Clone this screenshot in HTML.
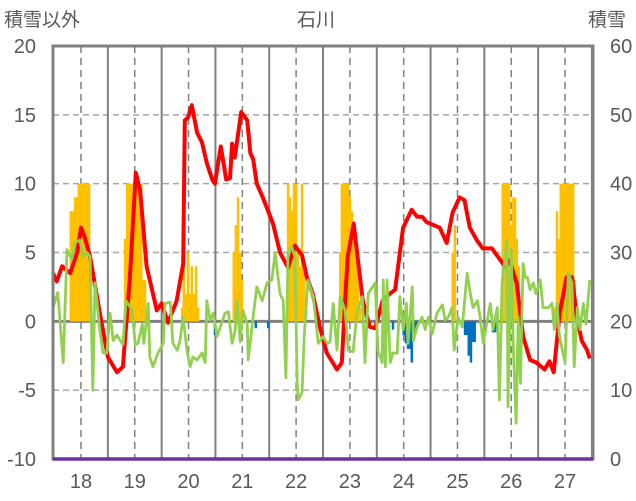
<!DOCTYPE html>
<html><head><meta charset="utf-8"><style>
body{margin:0;background:#fff;width:636px;height:501px;overflow:hidden}
svg{display:block;font-family:"Liberation Sans","Noto Sans CJK JP",sans-serif}
</style></head><body>
<svg id="chart" width="636" height="501" viewBox="0 0 636 501" xmlns="http://www.w3.org/2000/svg">
<text x="4" y="26" font-size="19" fill="#595959">積雪以外</text>
<text x="316" y="26" font-size="19" fill="#595959" text-anchor="middle">石川</text>
<text x="588" y="26" font-size="19" fill="#595959">積雪</text>
<g id="grid"></g><g id="bars"></g><g id="lines"></g><g id="frame"></g><g id="labels"></g>
</svg>
<script>
const yearTicks=[18,19,20,21,22,23,24,25,26,27];
const leftTicks=[20,15,10,5,0,-5,-10];
const rightTicks=[60,50,40,30,20,10,0];
const redT=[17.48,17.55,17.65,17.80,17.93,18.00,18.07,18.17,18.35,18.50,18.67,18.78,18.91,19.02,19.10,19.22,19.41,19.50,19.62,19.78,19.90,19.93,19.99,20.06,20.16,20.25,20.34,20.44,20.49,20.60,20.70,20.77,20.81,20.86,20.98,21.09,21.15,21.20,21.27,21.38,21.57,21.70,21.85,21.98,22.11,22.20,22.31,22.44,22.57,22.76,22.85,22.91,22.96,23.07,23.15,23.24,23.37,23.47,23.61,23.74,23.84,23.99,24.15,24.25,24.34,24.43,24.67,24.80,24.91,25.04,25.13,25.23,25.36,25.47,25.64,25.75,25.88,25.97,26.10,26.22,26.35,26.47,26.62,26.71,26.79,26.90,27.03,27.13,27.22,27.31,27.41,27.46];
const redV=[3.5,2.9,4.0,3.5,5.0,6.8,6.1,4.7,0.6,-2.6,-3.7,-3.3,3.2,10.8,9.5,4.0,0.8,1.3,-0.1,1.5,4.2,14.6,14.8,15.7,13.7,13.0,11.5,10.3,10.0,12.7,10.3,10.4,12.9,11.9,15.2,14.6,12.2,11.8,10.0,9.0,7.1,5.0,3.9,5.5,4.8,3.2,2.0,-0.4,-2.3,-3.5,-3.0,1.5,4.7,7.1,4.4,1.5,-0.4,-0.5,1.5,2.0,2.3,6.8,8.1,7.6,7.6,7.2,6.8,5.7,7.9,9.0,8.8,6.8,5.9,5.3,5.3,4.7,4.0,4.4,2.8,-1.1,-2.8,-3.0,-3.5,-2.9,-3.7,0.6,3.2,3.2,0.3,-1.4,-2.1,-2.7];
const greenT=[17.48,17.57,17.67,17.74,17.83,17.89,17.98,18.04,18.11,18.17,18.22,18.26,18.35,18.41,18.48,18.54,18.60,18.67,18.78,18.84,18.95,19.01,19.06,19.14,19.17,19.25,19.28,19.34,19.43,19.53,19.56,19.66,19.71,19.79,19.84,19.90,19.97,20.03,20.08,20.16,20.25,20.31,20.34,20.40,20.46,20.53,20.59,20.68,20.74,20.81,20.87,20.90,20.96,21.01,21.09,21.11,21.20,21.27,21.37,21.46,21.55,21.61,21.70,21.76,21.81,21.85,21.92,21.98,22.02,22.04,22.11,22.15,22.22,22.32,22.41,22.50,22.58,22.63,22.69,22.76,22.82,22.91,22.97,23.06,23.13,23.23,23.28,23.34,23.47,23.52,23.60,23.62,23.66,23.69,23.75,23.80,23.88,23.93,23.99,24.05,24.08,24.16,24.18,24.25,24.34,24.40,24.46,24.53,24.62,24.72,24.77,24.83,24.90,24.94,25.01,25.09,25.18,25.24,25.29,25.37,25.42,25.48,25.61,25.66,25.74,25.78,25.83,25.92,25.94,26.00,26.04,26.09,26.13,26.17,26.22,26.26,26.30,26.35,26.41,26.46,26.54,26.59,26.69,26.76,26.80,26.85,26.89,26.95,27.00,27.06,27.13,27.17,27.23,27.28,27.34,27.39,27.46];
const greenV=[1.0,2.1,-3.0,5.2,4.5,5.7,5.9,4.7,5.0,4.7,-5.0,2.8,-0.6,-2.3,-2.3,0.6,-1.4,-1.0,-1.7,1.5,0.8,-1.7,-1.6,-0.2,-1.6,1.3,-2.6,-3.3,-2.3,-1.6,1.3,1.4,-1.6,-2.1,-1.4,0.3,-2.1,-3.3,-2.6,-2.8,-2.3,-3.0,1.5,0.1,0.6,-1.1,-0.4,0.6,0.7,-1.6,-0.6,1.5,-1.5,0.8,-0.2,-2.8,0.3,2.5,1.5,2.8,3.0,5.0,2.0,1.5,-4.1,5.0,5.4,4.7,-4.5,-5.7,-5.2,-1.1,3.0,1.8,-1.6,-1.1,-1.6,-1.5,1.3,-2.1,1.8,0.8,-2.1,-2.2,0.6,1.8,-3.0,2.0,2.8,-2.1,-3.0,3.0,-3.3,3.0,-3.0,-2.3,-2.3,1.8,-0.6,1.3,-1.6,2.5,-1.4,-0.4,0.3,-0.6,0.3,-0.9,0.6,1.2,0.1,0.3,1.0,-2.1,0.3,-0.4,3.5,2.0,1.0,1.5,0.3,-1.6,1.3,-0.6,1.0,-5.7,2.8,5.9,-6.2,5.2,-2.1,-7.4,0.3,-4.5,4.2,3.2,3.2,2.3,2.8,2.0,3.0,1.0,1.0,1.3,-0.6,1.3,-0.9,-2.1,-3.0,3.5,2.8,-3.3,1.0,-0.6,1.3,-0.2,3.0];
const snowT=[17.81,17.85,17.89,17.93,17.96,18.00,18.04,18.07,18.11,18.15,18.82,18.86,18.89,18.93,18.97,19.00,19.04,19.08,19.12,19.15,19.19,19.88,19.91,19.95,19.99,20.03,20.06,20.10,20.14,20.18,20.84,20.88,20.92,20.96,20.99,21.85,21.89,21.92,21.96,22.00,22.03,22.07,22.11,22.15,22.82,22.85,22.89,22.93,22.96,23.00,23.04,23.07,23.11,23.15,23.19,24.91,24.95,25.84,25.88,25.92,25.96,25.99,26.03,26.07,26.10,26.14,26.81,26.85,26.89,26.92,26.96,27.00,27.03,27.07,27.11,27.15,27.18];
const snowV=[8,8,9,9,10,10,10,10,10,10,6,10,10,10,10,10,10,10,10,3,3,1,9,2,5,2,4,2,4,1,5,7,9,5,3,10,9,8,10,10,5,4,10,4,5,10,10,10,10,9,8,7,6,4,1,5,7,10,10,10,10,7,9,9,6,4,1,8,6,10,10,10,10,10,10,10,3];
const negT=[20.49,21.25,21.48,23.80,24.00,24.04,24.08,24.12,24.15,24.19,24.23,25.14,25.18,25.21,25.25,25.29,25.32,25.66,25.70];
const negV=[-1,-0.5,-0.5,-0.6,-1.0,-1.6,-2.0,-2.0,-3.0,-1.0,-0.5,-1.0,-1.0,-2.5,-3.0,-1.5,-1.5,-0.8,-0.8];

const X0=53,X1=593,Y0=46,Y1=459,T0=17.48,T1=27.52;
const x=t=>X0+(t-T0)/(T1-T0)*(X1-X0);
const y=v=>Y0+(20-v)/30*(Y1-Y0);
const NS='http://www.w3.org/2000/svg';
function mk(tag,attrs,parent){const e=document.createElementNS(NS,tag);for(const k in attrs)e.setAttribute(k,attrs[k]);parent.appendChild(e);return e;}
const grid=document.getElementById('grid'),bars=document.getElementById('bars'),lines=document.getElementById('lines'),frame=document.getElementById('frame'),labels=document.getElementById('labels');

leftTicks.forEach(v=>{
  if(v===20||v===-10||v===0)return;
  const l=mk('line',{x1:X0,x2:X1,y1:y(v),y2:y(v),stroke:'#a6a6a6','stroke-width':1.5,'stroke-dasharray':'6,4'},grid);
  
  
});
yearTicks.forEach(yr=>{
  const d=mk('line',{x1:x(yr),x2:x(yr),y1:Y0,y2:Y1,stroke:'#808080','stroke-width':1.5,'stroke-dasharray':'7,5'},grid);
  
  
  const s=mk('line',{x1:x(yr+0.5),x2:x(yr+0.5),y1:Y0,y2:Y1,stroke:'#808080','stroke-width':2},grid);
  
  
});
const zl=mk('line',{x1:X0,x2:X1,y1:y(0),y2:y(0),stroke:'#808080','stroke-width':3},grid);



snowT.forEach((t,i)=>{
  const r=mk('rect',{x:x(t)-1.2,y:y(snowV[i]),width:2.5,height:y(0)-y(snowV[i]),fill:'#ffc000'},bars);
  
  
});
negT.forEach((t,i)=>{
  const r=mk('rect',{x:x(t)-1.2,y:y(0),width:2.5,height:y(negV[i])-y(0),fill:'#0070c0'},bars);
  
  
});
function path(T,V){return T.map((t,i)=>(i?'L':'M')+x(t).toFixed(1)+','+y(V[i]).toFixed(1)).join('');}
const red=mk('path',{d:path(redT,redV),fill:'none',stroke:'#ff0000','stroke-width':4,'stroke-linejoin':'round'},lines);


const green=mk('path',{d:path(greenT,greenV),fill:'none',stroke:'#92d050','stroke-width':2.8,'stroke-linejoin':'round'},lines);



const fr=mk('rect',{x:X0,y:Y0,width:X1-X0,height:Y1-Y0,fill:'none',stroke:'#808080','stroke-width':3},frame);


const pl=mk('line',{x1:X0,x2:X1,y1:Y1,y2:Y1,stroke:'#7030a0','stroke-width':3.5},frame);



leftTicks.forEach(v=>{
  const t=mk('text',{x:36,y:y(v)+7,'font-size':20,fill:'#595959','text-anchor':'end'},labels);t.textContent=v;
  
  
});
rightTicks.forEach((v,i)=>{
  const t=mk('text',{x:610,y:y(leftTicks[i])+7,'font-size':20,fill:'#595959'},labels);t.textContent=v;
  
  
});
yearTicks.forEach(yr=>{
  const t=mk('text',{x:x(yr),y:488,'font-size':20,fill:'#595959','text-anchor':'middle'},labels);t.textContent=yr;
  
  
});
</script>
</body></html>
